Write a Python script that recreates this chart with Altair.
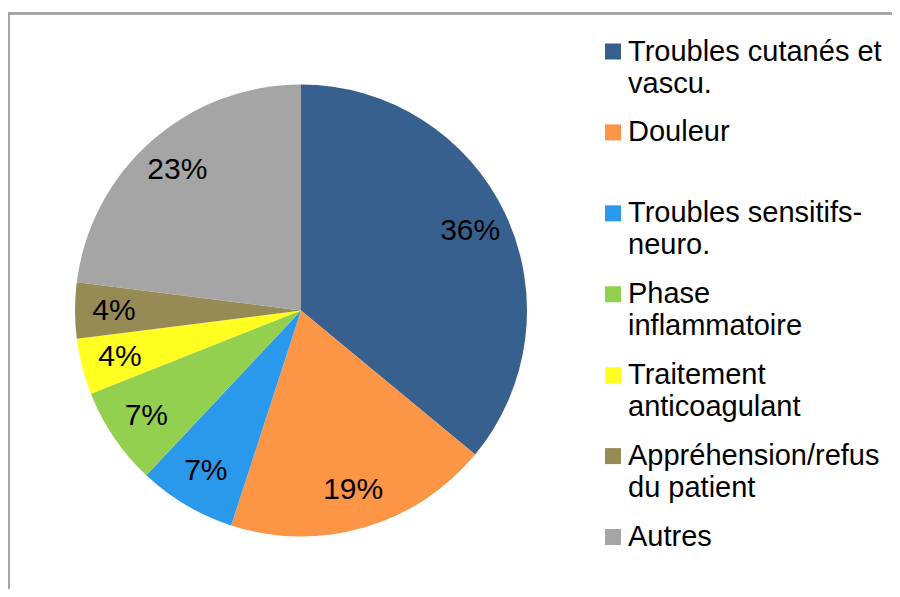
import altair as alt
import pandas as pd

categories = [
    "Troubles cutanés et vascu.",
    "Douleur",
    "Troubles sensitifs-neuro.",
    "Phase inflammatoire",
    "Traitement anticoagulant",
    "Appréhension/refus du patient",
    "Autres",
]
legend_lines = [
    "Troubles cutanés et\nvascu.",
    "Douleur",
    "Troubles sensitifs-\nneuro.",
    "Phase\ninflammatoire",
    "Traitement\nanticoagulant",
    "Appréhension/refus\ndu patient",
    "Autres",
]
values = [36, 19, 7, 7, 4, 4, 23]
colors = ["#37608F", "#FD9546", "#2A99EC", "#94D050", "#FFFF22", "#968B54", "#A5A5A5"]

df = pd.DataFrame({
    "cat": categories,
    "value": values,
    "idx": list(range(len(categories))),
    "legend": legend_lines,
})

color_scale = alt.Scale(domain=categories, range=colors)

CX, CY = 293, 302.5

base = alt.Chart(df)

pie = base.mark_arc(radius=226).encode(
    theta=alt.Theta("value:Q", stack=True),
    order=alt.Order("idx:Q"),
    color=alt.Color("cat:N", scale=color_scale, legend=None),
    x=alt.value(CX),
    y=alt.value(CY),
)

labels = base.transform_calculate(
    lab="datum.value + '%'"
).mark_text(
    radius=187, fontSize=30, font="Liberation Sans", color="#000000",
    align="center", baseline="middle"
).encode(
    theta=alt.Theta("value:Q", stack=True),
    order=alt.Order("idx:Q"),
    text="lab:N",
    x=alt.value(CX),
    y=alt.value(CY),
)

ypos = alt.Y("cat:N", sort=categories,
             scale=alt.Scale(type="point", range=[43.5, 529], padding=0),
             axis=None)

leg_sq = base.mark_square(size=256, opacity=1, filled=True).encode(
    x=alt.value(605),
    y=ypos,
    color=alt.Color("cat:N", scale=color_scale, legend=None),
)

leg_txt = base.mark_text(
    align="left", baseline="alphabetic", dy=9, fontSize=29,
    font="Liberation Sans", lineBreak="\n", lineHeight=32, color="#000000"
).encode(
    x=alt.value(620),
    y=ypos,
    text="legend:N",
)

frame_top = base.mark_rule(color="#A0A0A0", strokeWidth=1.5).encode(
    x=alt.value(0), x2=alt.value(900), y=alt.value(5.5)
)
frame_left = base.mark_rule(color="#A6A6A6", strokeWidth=2).encode(
    x=alt.value(1), y=alt.value(5), y2=alt.value(600)
)

chart = alt.layer(pie, labels, leg_sq, leg_txt, frame_top, frame_left).properties(
    width=884, height=581,
    padding=0,
    autosize=alt.AutoSizeParams(type="none"),
).configure_view(stroke=None)

chart.save("out.html", embed_options={"renderer": "svg", "actions": False})
